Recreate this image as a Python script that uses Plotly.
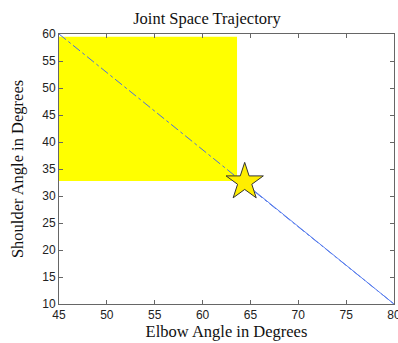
import plotly.graph_objects as go

# data
path_x = [45, 80]
path_y = [60, 10]
actual_x = [64.4, 80]
actual_y = [32.4, 10]
rect_x = [45, 63.6, 63.6, 45, 45]
rect_y = [32.8, 32.8, 59.5, 59.5, 32.8]
star_x = [64.4]
star_y = [32.6]
xticks = [45, 50, 55, 60, 65, 70, 75, 80]
yticks = [10, 15, 20, 25, 30, 35, 40, 45, 50, 55, 60]

fig = go.Figure()
fig.add_trace(go.Scatter(x=rect_x, y=rect_y, fill="toself", fillcolor="#ffff00",
                         line=dict(width=0), mode="lines", hoverinfo="skip"))
fig.add_trace(go.Scatter(x=path_x, y=path_y, mode="lines",
                         line=dict(color="#4a6fe0", width=1, dash="dashdot")))
fig.add_trace(go.Scatter(x=actual_x, y=actual_y, mode="lines",
                         line=dict(color="#5a7ff0", width=1)))
fig.add_trace(go.Scatter(x=star_x, y=star_y, mode="markers",
                         marker=dict(symbol="star", size=28, color="#ffee00",
                                     line=dict(color="#333333", width=1))))

axis_common = dict(showgrid=False, zeroline=False, showline=True, linecolor="#666666",
                   linewidth=1, mirror="ticks", ticks="inside", ticklen=4,
                   tickcolor="#666666", ticklabeloverflow="allow", automargin=False,
                   tickfont=dict(family="Liberation Sans, Arial", size=12, color="#222"))
fig.update_xaxes(range=[45, 80], tickvals=xticks,
                 title=dict(text="Elbow Angle in Degrees", standoff=4,
                            font=dict(family="Liberation Serif, Times New Roman", size=16.5, color="#111")),
                 **axis_common)
fig.update_yaxes(range=[10, 60], tickvals=yticks,
                 title=dict(text="Shoulder Angle in Degrees", standoff=14,
                            font=dict(family="Liberation Serif, Times New Roman", size=16.5, color="#111")),
                 **axis_common)
fig.update_layout(width=398, height=343, showlegend=False,
                  paper_bgcolor="white", plot_bgcolor="white",
                  margin=dict(l=59, r=4, t=34, b=39),
                  title=dict(text="Joint Space Trajectory", x=0.52, xanchor="center",
                             y=0.965, yanchor="top",
                             font=dict(family="Liberation Serif, Times New Roman", size=16.5, color="#111")))
fig.write_html("out.html")
